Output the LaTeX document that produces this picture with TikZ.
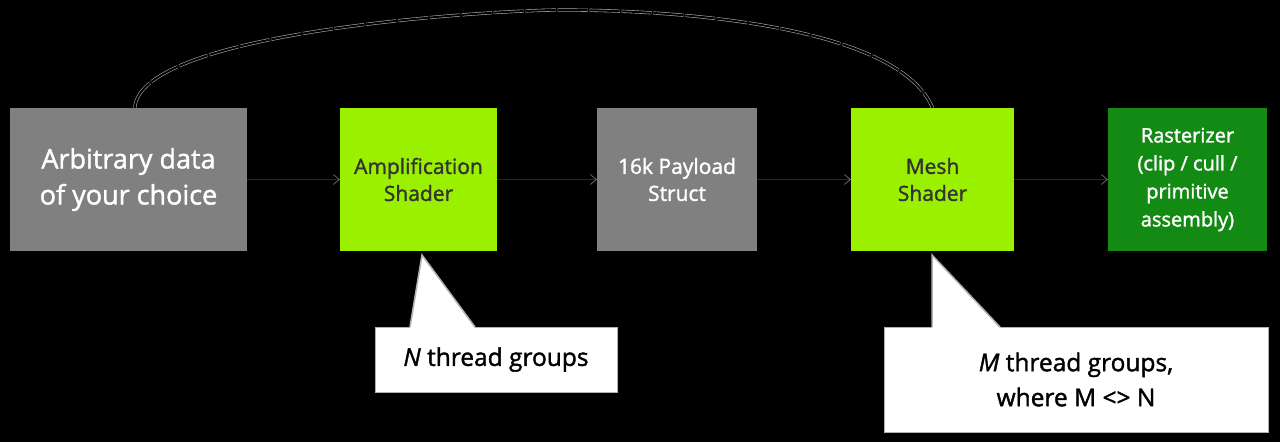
\documentclass[tikz,border=0pt]{standalone}
\usepackage{fontspec}
\setmainfont{Open Sans}[FakeBold=1.5]
\usetikzlibrary{arrows.meta}
\definecolor{lime}{HTML}{9BF000}
\definecolor{dgreen}{HTML}{138A13}
\definecolor{gbox}{HTML}{808080}
\begin{document}
\begin{tikzpicture}[x=1pt,y=-1pt,
 box/.style={draw=none,minimum height=143pt,align=center,inner sep=2pt,font=\fontsize{21}{27}\selectfont},
 conn/.style={draw=black!85!white,-{Straight Barb[length=6pt,width=10pt,color=gray]},line width=0.6pt},
 call/.style={fill=white,draw=gray!60,align=center,font=\fontsize{24.5}{35}\selectfont}]
\fill[black] (0,0) rectangle (1280,442);
\useasboundingbox (0,0) rectangle (1280,442);
\node[box,fill=gbox,text=white,minimum width=237pt,font=\fontsize{27}{36}\selectfont] (a) at (128.5,179.5) {Arbitrary data\\of your choice};
\node[box,fill=lime,text=black!80,minimum width=157pt] (b) at (418.5,179.5) {Amplification\\Shader};
\node[box,fill=gbox,text=white,minimum width=160pt] (c) at (677,179.5) {16k Payload\\Struct};
\node[box,fill=lime,text=black!80,minimum width=163pt] (d) at (932.5,179.5) {Mesh\\Shader};
\node[box,fill=dgreen,text=white,minimum width=159pt,font=\fontsize{20}{28}\selectfont] (e) at (1187.5,179.5) {Rasterizer\\(clip / cull /\\primitive\\assembly)};
\foreach \u/\v in {a/b,b/c,c/d,d/e}
  \draw[conn] (\u.east) -- (\v.west);
\node[call,minimum width=242pt,minimum height=65pt] (n) at (496,359.5) {\textit{N} thread groups};
\node[call,minimum width=384pt,minimum height=105pt] (m) at (1076,379.5) {\textit{M} thread groups,\\where M <> N};
\coordinate (pb) at (422,255);
\coordinate (pm) at (932,255);
\fill[white] (pb) -- (410,328) -- (475,328) -- cycle;
\draw[gray!60,line width=1.5pt] (410,327) -- (pb) -- (475,327);
\fill[white] (pm) -- (932,328) -- (1000,328) -- cycle;
\draw[gray!60,line width=1.5pt] (932,327) -- (pm) -- (1000,327);
\draw[gray!70,double=black,double distance=2pt,line width=0.6pt,dash pattern=on 30pt off 2pt] (a.north west)++(125,0) coordinate (s) .. controls (140,30) and (500,10) .. (560,10) .. controls (700,10) and (900,30) .. (d.north);
\end{tikzpicture}
\end{document}
